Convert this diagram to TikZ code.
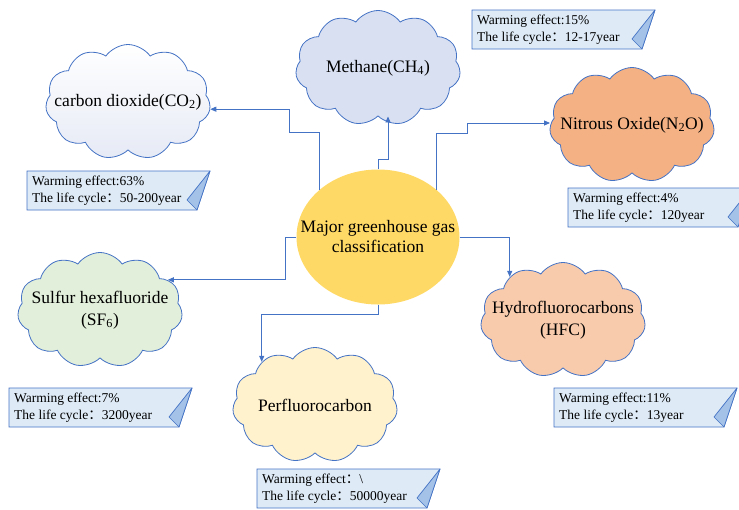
\documentclass[tikz,border=0pt]{standalone}
\usepackage{fontspec}
\setmainfont{Liberation Serif}
\newfontfamily\cjk{Noto Sans CJK SC}
\usetikzlibrary{shapes.symbols,shapes.geometric,arrows.meta}

\begin{document}
\begin{tikzpicture}[x=1pt,y=-1pt,
  gascloud/.style={cloud,cloud puffs=11,cloud puff arc=110,cloud ignores aspect,
    minimum width=165,minimum height=115,draw=edge,line width=0.8pt,inner xsep=-40pt,inner ysep=0pt,
    align=center,font=\fontsize{17.5}{22}\selectfont},
  link/.style={draw=edge,line width=0.9pt,-{Triangle[length=6pt,width=5pt]}},
  notebox/.style={fill=notefill,draw=edge,line width=0.7pt},
  notefold/.style={fill=foldfill,draw=edge,line width=0.7pt,line join=round},
  notetext/.style={anchor=west,inner sep=0pt,align=left,font=\fontsize{13.5}{17}\selectfont}]
\definecolor{edge}{HTML}{4472C4}
\definecolor{notefill}{HTML}{DEEBF7}
\definecolor{foldfill}{HTML}{A4C2E8}
\definecolor{gold}{HTML}{FFD966}
\definecolor{co2fill}{HTML}{E6EAF5}
\definecolor{ch4fill}{HTML}{D9E0F2}
\definecolor{n2ofill}{HTML}{F4B183}
\definecolor{sf6fill}{HTML}{E2EFDA}
\definecolor{pfcfill}{HTML}{FFF2CC}
\definecolor{hfcfill}{HTML}{F8CBAD}
\useasboundingbox (0,0) rectangle (739,509);

\node[ellipse,fill=gold,minimum width=163,minimum height=135,inner xsep=-25pt,inner ysep=0pt,align=center,
  font=\fontsize{17.5}{20}\selectfont] (ctr) at (378,237) {Major greenhouse gas\\classification};

\node[gascloud,top color=white,bottom color=co2fill] (co2) at (128,102) {carbon dioxide(CO\textsubscript{2})};
\node[gascloud,fill=ch4fill] (ch4) at (378,68) {Methane(CH\textsubscript{4})};
\node[gascloud,fill=n2ofill] (n2o) at (632,125) {Nitrous Oxide(N\textsubscript{2}O)};
\node[gascloud,fill=sf6fill] (sf6) at (100,310) {Sulfur hexafluoride\\(SF\textsubscript{6})};
\node[gascloud,fill=pfcfill] (pfc) at (315,405) {Perfluorocarbon};
\node[gascloud,fill=hfcfill] (hfc) at (563,320) {Hydrofluorocarbons\\(HFC)};

\draw[link] (ctr.141) |- (289,132) |- (co2.-5);
\draw[link] (ctr.north) -- ++(0,-10) -| ([xshift=10pt]ch4.south);
\draw[link] (ctr.39) |- (467,133) |- ([yshift=2pt]n2o.west);
\draw[link] (ctr.east) -| (hfc.141);
\draw[link] (ctr.west) -- ++(-11,0) |- (sf6.24);
\draw[link] (ctr.south) -- ++(0,10) -| (pfc.141);

\foreach \nm/\px/\py/\we/\lc in {co2/27/171/{Warming effect:63\%}/50-200,
    ch4/472/10/{Warming effect:15\%}/12-17,
    n2o/568/188/{Warming effect:4\%}/120,
    sf6/9/388/{Warming effect:7\%}/3200,
    pfc/257/469/{Warming effect{\cjk ：}\textbackslash}/50000,
    hfc/554/388/{Warming effect:11\%}/13}
{
  \filldraw[notebox] (\px,\py) -- ++(183,0) -- ++(-13,39) -- ++(-170,0) -- cycle;
  \filldraw[notefold] (\px+183,\py) -- ++(-23,29) -- ++(10,10) -- cycle;
  \node[notetext] (note-\nm) at (\px+5,\py+20) {\we\\The life cycle{\cjk ：}\lc year};
}
\end{tikzpicture}
\end{document}
